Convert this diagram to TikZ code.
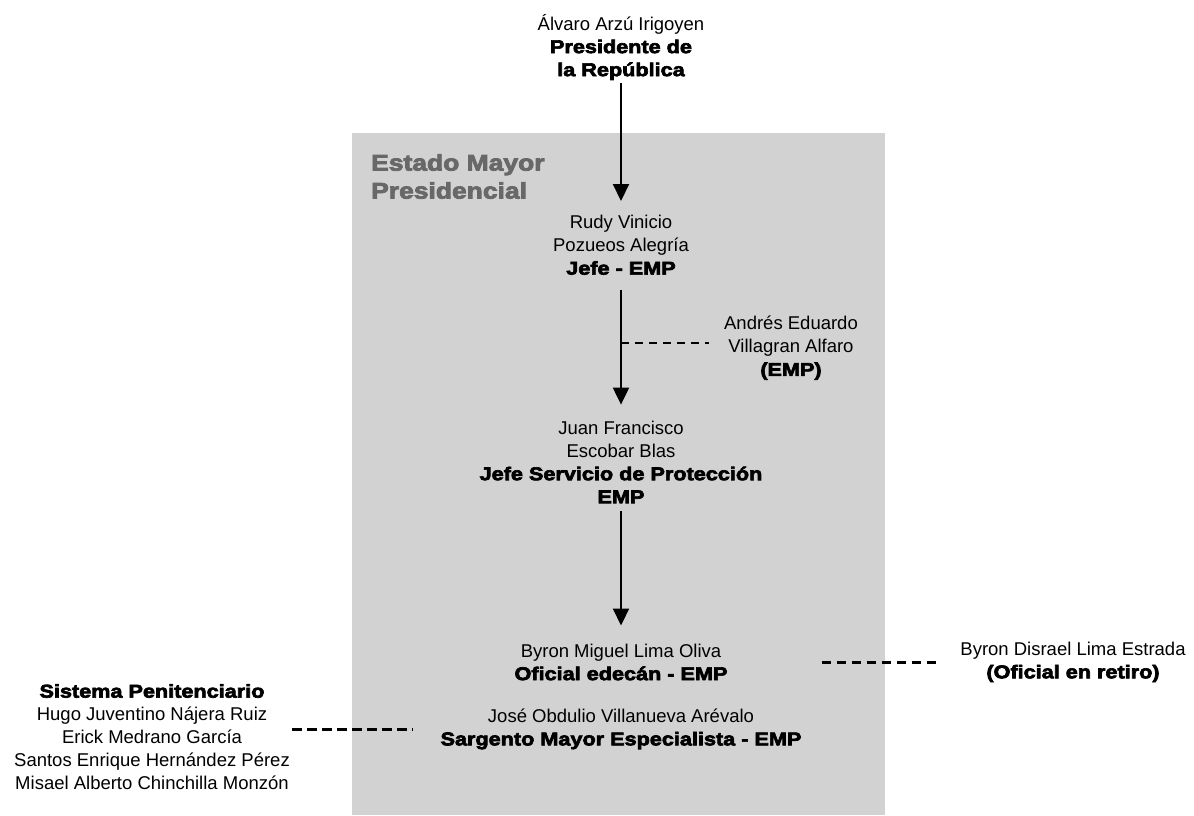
\documentclass[tikz,border=0pt]{standalone}
\usepackage{fontspec}
\setmainfont{Liberation Sans}
\newfontfamily\blk{Liberation Sans Bold}[FakeStretch=1.17,FakeBold=3.5]
\usetikzlibrary{arrows.meta}
\definecolor{boxgray}{RGB}{209,210,209}
\definecolor{titlegray}{RGB}{104,104,104}
\tikzset{
  txt/.style={inner sep=0pt, align=center, font=\fontsize{18.5}{23}\selectfont},
  arr/.style={line width=2pt, -{Triangle[width=16pt,length=17pt]}},
  dashA/.style={line width=2.5pt, dash pattern=on 8pt off 6pt},
  dashB/.style={line width=3pt, dash pattern=on 9.5pt off 5.5pt}
}
\begin{document}
\begin{tikzpicture}[x=1pt,y=-1pt]
\useasboundingbox (0,0) rectangle (1194,815);
\fill[boxgray] (352,133) rectangle (885,815);
\node[anchor=north west, inner sep=0pt, align=left, text=titlegray,
  font=\fontsize{22.6}{28}\selectfont\blk] (emp) at (371,154) {Estado Mayor\\Presidencial};
\node[txt] (pres) at (621,47) {Álvaro Arzú Irigoyen\\{\blk Presidente de}\\{\blk la República}};
\node[txt] (rudy) at (621,245) {Rudy Vinicio\\Pozueos Alegría\\{\blk Jefe - EMP}};
\node[txt] (andres) at (791,348) {Andrés Eduardo\\Villagran Alfaro\\{\blk (EMP)}};
\node[txt] (juan) at (621,462) {Juan Francisco\\Escobar Blas\\{\blk Jefe Servicio de Protección}\\{\blk EMP}};
\node[txt] (byron) at (621,662) {Byron Miguel Lima Oliva\\{\blk Oficial edecán - EMP}};
\node[txt] (jose) at (621,729) {José Obdulio Villanueva Arévalo\\{\blk Sargento Mayor Especialista - EMP}};
\node[txt] (disrael) at (1073,662) {Byron Disrael Lima Estrada\\{\blk (Oficial en retiro)}};
\node[txt] (sistema) at (152,737) {{\blk Sistema Penitenciario}\\Hugo Juventino Nájera Ruiz\\Erick Medrano García\\Santos Enrique Hernández Pérez\\Misael Alberto Chinchilla Monzón};
\draw[arr, shorten <=3pt, shorten >=14pt] (pres.south) -- (rudy.north);
\draw[arr, shorten <=15pt, shorten >=16pt] (rudy.south) -- (juan.north);
\draw[arr, shorten <=8pt, shorten >=18pt] (juan.south) -- (byron.north);
\coordinate (j1) at (621,343);
\draw[dashA, shorten >=15pt] (j1) -- (j1 -| andres.west);
\draw[dashB, shorten <=94pt, shorten >=21pt] (byron.east) -- (disrael.west);
\path (sistema.east |- jose.west) coordinate (l1);
\draw[dashB, shorten <=2pt, shorten >=28pt] (l1) -- (jose.west);
\end{tikzpicture}
\end{document}
